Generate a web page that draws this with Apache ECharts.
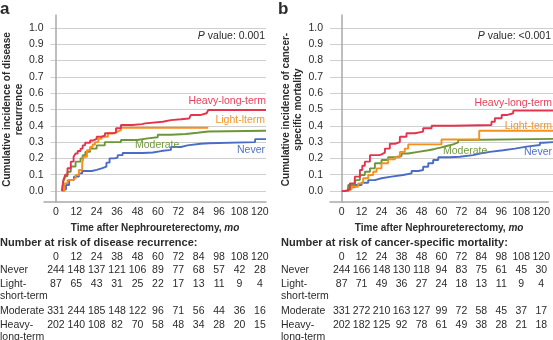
<!DOCTYPE html>
<html>
<head>
<meta charset="utf-8">
<script src="https://cdn.jsdelivr.net/npm/echarts@6/dist/echarts.min.js"></script>
<style>
html,body{margin:0;padding:0;background:#fff;}
#c{width:553px;height:340px;}
</style>
</head>
<body>
<div id="c"></div>
<script>
// ---------- DATA ----------
const xTicks = [0, 12, 24, 36, 48, 60, 72, 84, 96, 108, 120];
const yTicksMin = 0, yTicksMax = 1, yStep = 0.1;

// Panel a: cumulative incidence of disease recurrence  [month, value]
const aHeavy = [[0,0],[0.3,0.03],[0.8,0.067],[2,0.1],[3.3,0.14],[5.3,0.18],[7,0.21],[8.2,0.23],[9.5,0.245],[11.2,0.26],[12.5,0.28],[14,0.296],[17,0.31],[19,0.32],[21,0.333],[24,0.34],[26,0.354],[30.8,0.36],[32.7,0.385],[35.7,0.405],[42.5,0.41],[48.4,0.415],[50.4,0.425],[61,0.435],[66,0.44],[72,0.445],[77,0.455],[78,0.466],[83.7,0.477],[87.6,0.487],[88.6,0.497],[123.6,0.497]];
const aLight = [[0,0],[1.4,0.047],[3.3,0.067],[6.3,0.078],[8.2,0.098],[10.2,0.129],[12.2,0.17],[13.1,0.21],[15.1,0.25],[17,0.27],[18.5,0.285],[20,0.30],[22,0.32],[24,0.333],[27.8,0.354],[31.8,0.364],[33.7,0.374],[35.7,0.388],[88.6,0.388]];
const aModerate = [[0,0],[0.8,0.06],[2,0.09],[3.3,0.118],[5.3,0.15],[8.2,0.18],[11.2,0.2],[12.5,0.22],[14.1,0.24],[17,0.26],[21,0.28],[25.9,0.30],[35.7,0.313],[45.5,0.323],[52,0.33],[58,0.345],[66,0.35],[75,0.357],[82,0.365],[88.6,0.37],[123.6,0.37]];
const aNever = [[0,0],[1,0.01],[2.4,0.037],[4.3,0.067],[7.2,0.088],[10.2,0.108],[12.2,0.123],[18,0.13],[21,0.139],[24,0.15],[26.9,0.174],[28.8,0.2],[31.8,0.205],[33.7,0.22],[36.7,0.233],[49,0.236],[55,0.245],[60,0.252],[66,0.27],[72,0.28],[76,0.29],[84,0.293],[89,0.30],[117,0.318],[123.6,0.318]];

// Panel b: cumulative incidence of cancer-specific mortality
const bHeavy = [[0,0],[2,0.01],[4.7,0.047],[7.6,0.088],[10.6,0.129],[12,0.155],[13.5,0.18],[16.5,0.22],[22,0.225],[23.3,0.235],[25.3,0.26],[28.2,0.29],[31.2,0.30],[34.1,0.333],[38,0.354],[43,0.364],[47.8,0.385],[52.8,0.40],[65.5,0.405],[88,0.425],[90,0.446],[94,0.466],[97,0.477],[100.8,0.493],[124.2,0.493]];
const bLight = [[0,0],[3,0.01],[5.7,0.026],[9.6,0.047],[12.5,0.078],[15.5,0.098],[18.4,0.118],[20.4,0.139],[23.3,0.17],[27.2,0.194],[31.2,0.207],[34.1,0.24],[37,0.26],[39,0.286],[58.6,0.316],[80.8,0.37],[124.2,0.37]];
const bModerate = [[0,0],[3.7,0.037],[7.6,0.067],[10.6,0.098],[13.5,0.118],[16.5,0.139],[19.4,0.17],[23.3,0.19],[27.2,0.207],[31.2,0.215],[35.1,0.23],[39,0.24],[44.9,0.25],[50.8,0.258],[54.7,0.266],[58,0.276],[61.6,0.286],[65.5,0.298],[68.4,0.313],[71.4,0.32],[124.2,0.32]];
const bNever = [[0,0],[3.7,0.022],[7.6,0.037],[11.6,0.051],[15.5,0.067],[19.4,0.078],[23.3,0.088],[29.2,0.098],[36,0.108],[41,0.123],[45,0.129],[47.8,0.149],[50.8,0.17],[53.7,0.19],[56.7,0.207],[63.5,0.21],[69.4,0.22],[77.2,0.23],[81.2,0.24],[87,0.25],[94.9,0.26],[101.8,0.272],[108.6,0.282],[116.5,0.296],[118.4,0.30],[124.2,0.30]];

// Number-at-risk tables
const riskHeader = ['0','12','24','38','48','60','72','84','98','108','120'];
const riskRowNames = ['Never', 'Light-\nshort-term', 'Moderate', 'Heavy-\nlong-term'];
const riskA_never = [244,148,137,121,106,89,77,68,57,42,28];
const riskA_light = [87,65,43,31,25,22,17,13,11,9,4];
const riskA_moderate = [331,244,185,148,122,96,71,56,44,36,16];
const riskA_heavy = [202,140,108,82,70,58,48,34,28,20,15];
const riskB_never = [244,166,148,130,118,94,83,75,61,45,30];
const riskB_light = [87,71,49,36,27,24,18,13,11,9,4];
const riskB_moderate = [331,272,210,163,127,99,72,58,45,37,17];
const riskB_heavy = [202,182,125,92,78,61,49,38,28,21,18];

// ---------- STYLE ----------
const FONT = '"Liberation Sans", Arial, Helvetica, sans-serif';
const TXT = '#2b2b2b';
const C = {heavy:'#e3344f', light:'#f6901c', moderate:'#6d963a', never:'#4a6cc6'};
const CL = {heavy:'#e4425c', light:'#f4962b', moderate:'#75993f', never:'#4f72c9'};
const GRIDC = '#cfcfcf', AXISC = '#a9a9a9';

const chart = echarts.init(document.getElementById('c'));

function dataGrid(left, width){ return {left:left, top:28, width:width, height:163}; }
function frameGrid(left, width){ return {left:left, top:15, width:width, height:187}; }

const X_MIN = -7;
function xData(gi, max){
  return {gridIndex:gi, type:'value', min:X_MIN, max:max, show:true,
    axisLine:{show:false}, axisTick:{show:false}, axisLabel:{show:false}, splitLine:{show:false}};
}
function xFrame(gi, max){
  return {gridIndex:gi, type:'value', min:X_MIN, max:max,
    axisLine:{show:true, onZero:false, lineStyle:{color:AXISC, width:1.5}},
    axisTick:{show:false}, splitLine:{show:false},
    axisLabel:{customValues:xTicks, margin:5, color:TXT, fontFamily:FONT, fontSize:10.5},
    name:'Time after Nephroureterectomy, {i|mo}', nameLocation:'middle', nameGap:16,
    nameTextStyle:{color:TXT, fontFamily:FONT, fontSize:10, fontWeight:'bold',
      rich:{i:{fontStyle:'italic', fontWeight:'bold', fontFamily:FONT, fontSize:10, color:TXT}}}
  };
}
function yData(gi, name){
  return {gridIndex:gi, type:'value', min:yTicksMin, max:yTicksMax, interval:yStep,
    axisLine:{show:false}, axisTick:{show:false},
    axisLabel:{formatter:v=>v.toFixed(1), margin:7, color:TXT, fontFamily:FONT, fontSize:10.5},
    splitLine:{show:true, lineStyle:{color:GRIDC, width:1}},
    name:name, nameLocation:'middle', nameRotate:90, nameGap:18,
    nameTextStyle:{color:TXT, fontFamily:FONT, fontSize:10, fontWeight:'bold', lineHeight:12}
  };
}
function yFrame(gi){
  return {gridIndex:gi, type:'value', min:0, max:1,
    axisLine:{show:true, lineStyle:{color:AXISC, width:1.5}},
    axisTick:{show:false}, axisLabel:{show:false}, splitLine:{show:false}};
}
function line(data, color, xi, yi){
  return {type:'line', xAxisIndex:xi, yAxisIndex:yi, data:data, step:'end',
    showSymbol:false, symbol:'none', lineStyle:{color:color, width:1.9}, itemStyle:{color:color},
    animation:false, z:3};
}

chart.setOption({
  animation:false,
  backgroundColor:'#fff',
  grid:[dataGrid(44,222), frameGrid(44,222), dataGrid(330,223), frameGrid(330,223)],
  xAxis:[xData(0,123.6), xFrame(1,123.6), xData(2,124.2), xFrame(3,124.2)],
  yAxis:[yData(0,'Cumulative incidence of disease\nrecurrence'), yFrame(1),
         yData(2,'Cumulative incidence of cancer-\nspecific mortality'), yFrame(3)],
  series:[
    line(aNever, C.never, 0, 0), line(aModerate, C.moderate, 0, 0),
    line(aLight, C.light, 0, 0), line(aHeavy, C.heavy, 0, 0),
    line(bNever, C.never, 2, 2), line(bModerate, C.moderate, 2, 2),
    line(bLight, C.light, 2, 2), line(bHeavy, C.heavy, 2, 2)
  ]
});

// ---------- annotations & tables ----------
function txt(text, x, y, opts){
  opts = opts || {};
  return {type:'text', x:x, y:y, z:10, silent:true,
    style:Object.assign({text:text, fill:opts.fill||TXT, font:(opts.weight||'normal')+' '+(opts.size||10)+'px '+FONT,
      textAlign:opts.align||'left', textVerticalAlign:'middle'}, opts.rich?{rich:opts.rich}:{})};
}
const g = [];
g.push(txt('a', 0, 9, {weight:'bold', size:17}));
g.push(txt('b', 278, 9, {weight:'bold', size:17}));
const richP = {i:{fontStyle:'italic', fontSize:10.5, fontFamily:FONT, fill:TXT}, n:{fontSize:10.5, fontFamily:FONT, fill:TXT}};
g.push({type:'text', x:265, y:36, z:10, style:{text:'{i|P}{n| value: 0.001}', textAlign:'right', textVerticalAlign:'middle', rich:richP, font:'10.5px '+FONT}});
g.push({type:'text', x:551, y:36, z:10, style:{text:'{i|P}{n| value: <0.001}', textAlign:'right', textVerticalAlign:'middle', rich:richP, font:'10.5px '+FONT}});

// curve labels
g.push(txt('Heavy-long-term', 266, 101, {fill:CL.heavy, align:'right', size:10.5}));
g.push(txt('Light-lterm', 265, 120, {fill:CL.light, align:'right', size:10.5}));
g.push(txt('Moderate', 135, 145, {fill:CL.moderate, size:10.5}));
g.push(txt('Never', 265, 150, {fill:CL.never, align:'right', size:10.5}));
g.push(txt('Heavy-long-term', 552, 103, {fill:CL.heavy, align:'right', size:10.5}));
g.push(txt('Light-term', 552, 126, {fill:CL.light, align:'right', size:10.5}));
g.push(txt('Moderate', 443, 151, {fill:CL.moderate, size:10.5}));
g.push(txt('Never', 552, 152, {fill:CL.never, align:'right', size:10.5}));

// tables
const rowY = [270, 284.5, 311.5, 325];
function table(title, xIndex, left, rows){
  g.push(txt(title, left, 243, {weight:'bold', size:11}));
  xTicks.forEach((t, k) => {
    const px = chart.convertToPixel({xAxisIndex:xIndex}, t);
    g.push(txt(riskHeader[k], px, 257, {align:'center', size:10.5}));
    rows.forEach((r, ri) => g.push(txt(String(r[k]), px, rowY[ri], {align:'center', size:10.5})));
  });
  riskRowNames.forEach((nm, ri) => {
    nm.split('\n').forEach((ln, li) => g.push(txt(ln, left, rowY[ri] + li*12, {size:10.5})));
  });
}
table('Number at risk of disease recurrence:', 1, 0, [riskA_never, riskA_light, riskA_moderate, riskA_heavy]);
table('Number at risk of cancer-specific mortality:', 3, 281, [riskB_never, riskB_light, riskB_moderate, riskB_heavy]);

chart.setOption({graphic:g});
</script>
</body>
</html>
